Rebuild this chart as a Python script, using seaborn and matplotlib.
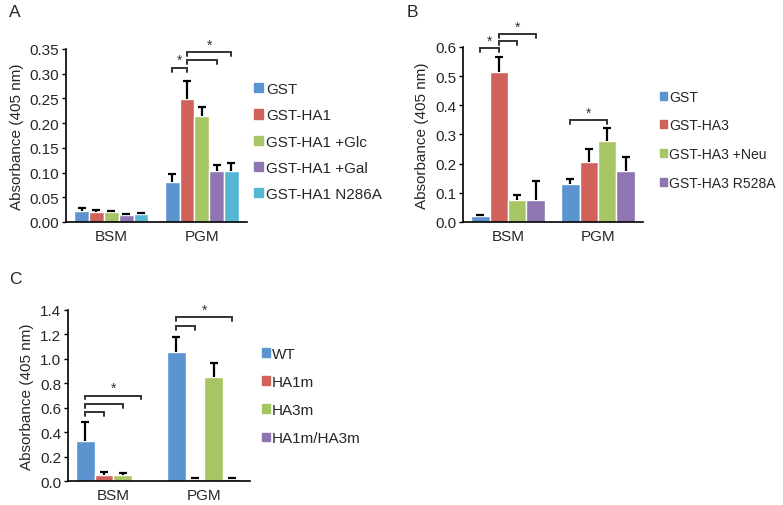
import numpy as np
import pandas as pd
import matplotlib
matplotlib.use("Agg")
import matplotlib.pyplot as plt
import seaborn as sns

# =========================
# DATA
# =========================
substrates = ["BSM", "PGM"]

a_groups = ["GST", "GST-HA1", "GST-HA1 +Glc", "GST-HA1 +Gal", "GST-HA1 N286A"]
a_mean = {"BSM": [0.023, 0.021, 0.020, 0.014, 0.016],
          "PGM": [0.080, 0.248, 0.214, 0.104, 0.104]}
a_err = {"BSM": [0.005, 0.004, 0.002, 0.002, 0.003],
         "PGM": [0.018, 0.037, 0.019, 0.011, 0.016]}

b_groups = ["GST", "GST-HA3", "GST-HA3 +Neu", "GST-HA3 R528A"]
b_mean = {"BSM": [0.022, 0.513, 0.074, 0.074],
          "PGM": [0.131, 0.205, 0.279, 0.175]}
b_err = {"BSM": [0.003, 0.052, 0.018, 0.065],
         "PGM": [0.018, 0.045, 0.042, 0.049]}

c_groups = ["WT", "HA1m", "HA3m", "HA1m/HA3m"]
c_mean = {"BSM": [0.33, 0.05, 0.05, 0.004],
          "PGM": [1.06, 0.015, 0.85, 0.015]}
c_err = {"BSM": [0.15, 0.02, 0.012, 0.0],
         "PGM": [0.12, 0.006, 0.12, 0.008]}

colors = ["#5B94CF", "#D1615B", "#A6C564", "#8F75B1", "#55B7D1"]

# =========================
# STYLE
# =========================
sns.set_theme(style="white")
plt.rcParams["font.family"] = ["Liberation Sans", "DejaVu Sans"]
plt.rcParams["font.size"] = 11

fig = plt.figure(figsize=(7.83, 5.06), dpi=100)
axA = fig.add_axes([0.0843, 0.5593, 0.2312, 0.342])
axB = fig.add_axes([0.5913, 0.5593, 0.2299, 0.346])
axC = fig.add_axes([0.0868, 0.0474, 0.2324, 0.338])


def to_frame(groups, mean, err):
    rows = []
    for s in substrates:
        for g, m, e in zip(groups, mean[s], err[s]):
            rows.append({"substrate": s, "group": g, "value": m, "err": e})
    return pd.DataFrame(rows)


def draw_panel(ax, df, groups, ymax, ystep, fmt):
    sns.barplot(data=df, x="substrate", y="value", hue="group",
                hue_order=groups, order=substrates,
                palette=colors[:len(groups)], errorbar=None,
                width=0.82, saturation=1, ax=ax, legend=False)
    # upper-only error bars (cap on top only), read back from the bar patches
    centers = {}
    for i, g in enumerate(groups):
        for j, s in enumerate(substrates):
            p = ax.patches[i * len(substrates) + j]
            x = p.get_x() + p.get_width() / 2
            row = df[(df.substrate == s) & (df.group == g)].iloc[0]
            centers[(s, g)] = x
            if row.err > 0:
                top = row.value + row.err
                ax.plot([x, x], [row.value, top], color="black", lw=1.6,
                        solid_capstyle="butt", zorder=3)
                ax.plot([x], [top], marker="_", ms=6, mew=1.6,
                        color="black", zorder=3)
    ax.set_ylim(0, ymax)
    ax.set_yticks(np.arange(0, ymax + ystep / 2, ystep))
    ax.yaxis.set_major_formatter(plt.FormatStrFormatter(fmt))
    ax.set_xlim(-0.5, 1.5)
    ax.set_xlabel("")
    ax.set_ylabel("Absorbance (405 nm)", fontsize=11, labelpad=4)
    sns.despine(ax=ax)
    for side in ["left", "bottom"]:
        ax.spines[side].set_color("black")
        ax.spines[side].set_linewidth(1.2)
    ax.tick_params(axis="y", direction="out", length=3, width=1, left=True,
                   labelsize=11, pad=2, color="black")
    ax.tick_params(axis="x", length=0, labelsize=11, pad=5)
    handles = [plt.Rectangle((0, 0), 1, 1, color=c) for c in colors[:len(groups)]]
    return centers, handles


def bracket(ax, x1, x2, y, star=True):
    h = ax.get_ylim()[1] * 0.022
    ax.plot([x1, x1, x2, x2], [y - h, y, y, y - h], color="#333333",
            lw=1.4, clip_on=False, solid_joinstyle="miter")
    if star:
        ax.text((x1 + x2) / 2, y + h * 0.15, "*", ha="center", va="bottom",
                fontsize=10, color="#333333", clip_on=False)


# =========================
# PANEL A
# =========================
dfA = to_frame(a_groups, a_mean, a_err)
cA, hA = draw_panel(axA, dfA, a_groups, 0.35, 0.05, "%.2f")
bracket(axA, cA[("PGM", "GST")], cA[("PGM", "GST-HA1")], 0.312)
bracket(axA, cA[("PGM", "GST-HA1")], cA[("PGM", "GST-HA1 +Gal")], 0.328, star=False)
bracket(axA, cA[("PGM", "GST-HA1")], cA[("PGM", "GST-HA1 N286A")], 0.344)
axA.legend(hA, a_groups, loc="center left", bbox_to_anchor=(0.316, 0.718),
           bbox_transform=fig.transFigure, frameon=False, fontsize=11,
           handlelength=0.6, handleheight=0.55, handletextpad=0.2,
           labelspacing=0.8, borderaxespad=0)

# =========================
# PANEL B
# =========================
dfB = to_frame(b_groups, b_mean, b_err)
cB, hB = draw_panel(axB, dfB, b_groups, 0.6, 0.1, "%.1f")
bracket(axB, cB[("BSM", "GST")], cB[("BSM", "GST-HA3")], 0.596)
bracket(axB, cB[("BSM", "GST-HA3")], cB[("BSM", "GST-HA3 +Neu")], 0.620, star=False)
bracket(axB, cB[("BSM", "GST-HA3")], cB[("BSM", "GST-HA3 R528A")], 0.644)
bracket(axB, cB[("PGM", "GST")], cB[("PGM", "GST-HA3 +Neu")], 0.350)
axB.legend(hB, b_groups, loc="center left", bbox_to_anchor=(0.836, 0.722),
           bbox_transform=fig.transFigure, frameon=False, fontsize=10.1,
           handlelength=0.5, handleheight=0.5, handletextpad=0.12,
           labelspacing=1.05, borderaxespad=0)

# =========================
# PANEL C
# =========================
dfC = to_frame(c_groups, c_mean, c_err)
cC, hC = draw_panel(axC, dfC, c_groups, 1.4, 0.2, "%.1f")
bracket(axC, cC[("BSM", "WT")], cC[("BSM", "HA1m")], 0.565, star=False)
bracket(axC, cC[("BSM", "WT")], cC[("BSM", "HA3m")], 0.630, star=False)
bracket(axC, cC[("BSM", "WT")], cC[("BSM", "HA1m/HA3m")], 0.700)
bracket(axC, cC[("PGM", "WT")], cC[("PGM", "HA1m")], 1.270, star=False)
bracket(axC, cC[("PGM", "WT")], cC[("PGM", "HA1m/HA3m")], 1.340)
axC.legend(hC, c_groups, loc="center left", bbox_to_anchor=(0.327, 0.215),
           bbox_transform=fig.transFigure, frameon=False, fontsize=11,
           handlelength=0.5, handleheight=0.5, handletextpad=0.15,
           labelspacing=0.92, borderaxespad=0)

# panel letters
fig.text(0.011, 0.990, "A", fontsize=12.5, va="top")
fig.text(0.519, 0.990, "B", fontsize=12.5, va="top")
fig.text(0.012, 0.462, "C", fontsize=12.5, va="top")

fig.savefig("out.png", dpi=100)
